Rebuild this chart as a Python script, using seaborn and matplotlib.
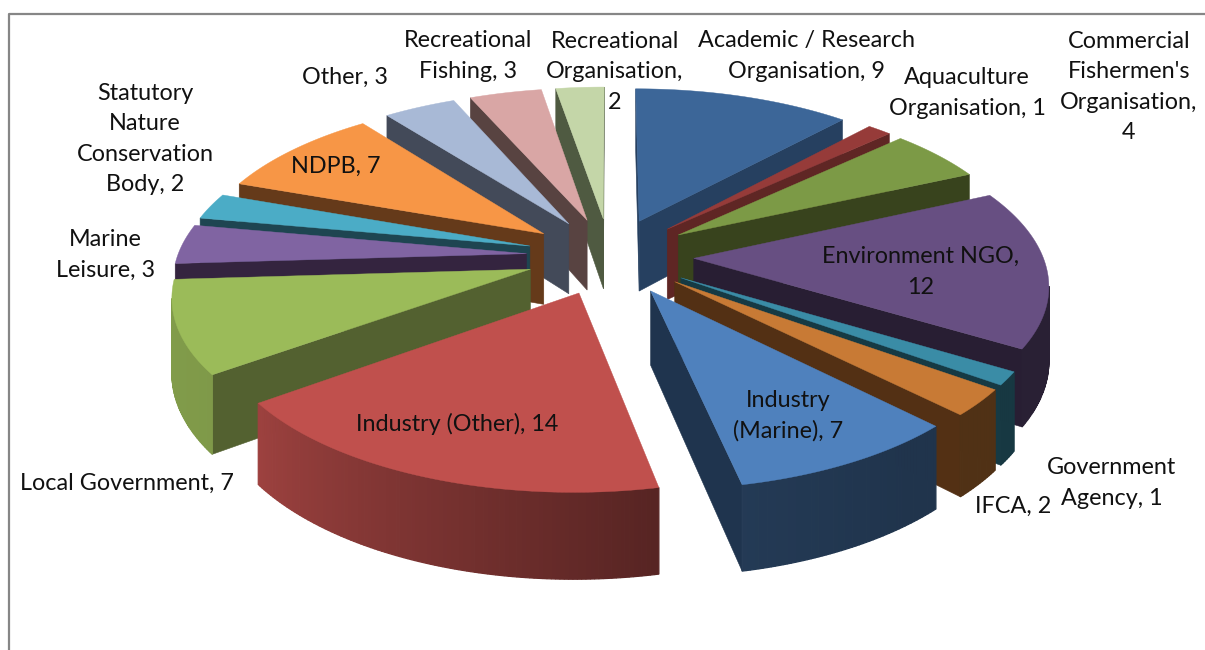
import numpy as np
import matplotlib
matplotlib.use('Agg')
import matplotlib.pyplot as plt
import seaborn as sns

# Slices, clockwise from 12 o'clock
categories = ['Academic / Research Organisation', 'Aquaculture Organisation',
              "Commercial Fishermen's Organisation", 'Environment NGO',
              'Government Agency', 'IFCA', 'Industry (Marine)', 'Industry (Other)',
              'Local Government', 'Marine Leisure',
              'Statutory Nature Conservation Body', 'NDPB', 'Other',
              'Recreational Fishing', 'Recreational Organisation']
counts = [9, 1, 4, 12, 1, 2, 7, 14, 7, 3, 2, 7, 3, 3, 2]

top_colors = ['#3C6698', '#963B39', '#7C9A46', '#674F82', '#3A8CA6',
              '#C87A35', '#4F81BD', '#C0504D', '#9BBB59', '#8064A2',
              '#4BACC6', '#F79646', '#A8B9D6', '#D9A6A5', '#C4D6A8']
wall_colors = ['#264060', '#5F2624', '#38431D', '#281E33', '#163A44',
               '#533014', '#1F344E', '#5B2220', '#536130', '#34243F',
               '#1E4551', '#653A1A', '#434A59', '#584341', '#4F5A41']

# Label text and where it sits on the canvas
label_text = ['Academic / Research\nOrganisation, 9', 'Aquaculture\nOrganisation, 1',
              "Commercial\nFishermen's\nOrganisation,\n4", 'Environment NGO,\n12',
              'Government\nAgency, 1', 'IFCA, 2', 'Industry\n(Marine), 7',
              'Industry (Other), 14', 'Local Government, 7', 'Marine\nLeisure, 3',
              'Statutory\nNature\nConservation\nBody, 2', 'NDPB, 7', 'Other, 3',
              'Recreational\nFishing, 3', 'Recreational\nOrganisation,\n2']
label_x = [807, 967, 1129, 921, 1112, 1013, 788, 457, 127, 105, 145, 336, 345, 468, 615]
label_y = [56, 93, 87, 272, 483, 506, 416, 424, 483, 255, 139, 166, 77, 56, 72]

# Projection settings
CX, CY = 610, 256
RX, RY = 349, 160
PERSP = 0.14
EXPLODE = 0.24
DEPTH = 72


def project(u, v, z=0.0):
    s = 1 / (1 + PERSP * v)
    return CX + RX * u * s, CY - RY * v * s + DEPTH * z * s


def faces_viewer(p0, p1, inside):
    # a side wall shows when going down the screen leaves the slice's top
    dx, dy = p1[0] - p0[0], p1[1] - p0[1]
    cross = dx * (inside[1] - p0[1]) - dy * (inside[0] - p0[0])
    return cross < 0 if dx > 0 else cross > 0


def shade(color, angle):
    # outer rim gets lighter towards the lower left
    f = np.interp(angle, [0, 140, 168, 234, 300, 360],
                  [0.40, 0.40, 0.45, 0.82, 0.86, 0.5])
    base = np.array(matplotlib.colors.to_rgb(color))
    return tuple(base * f)


sns.set_theme(style='white')
plt.rcParams['font.family'] = ['Lato', 'DejaVu Sans']

fig = plt.figure(figsize=(12.05, 6.5), dpi=100)
ax = fig.add_axes([0, 0, 1, 1])
ax.set_xlim(0, 1205)
ax.set_ylim(650, 0)
ax.axis('off')

# chart frame
ax.plot([9, 9, 1205], [650, 14, 14], color='#868686', lw=1.6)

values = np.array(counts, dtype=float)
edges = np.concatenate([[0], np.cumsum(values)]) / values.sum() * 2 * np.pi
mids = (edges[:-1] + edges[1:]) / 2

# back slices first
for i in np.argsort(-np.cos(mids)):
    du, dv = EXPLODE * np.sin(mids[i]), EXPLODE * np.cos(mids[i])
    th = np.linspace(edges[i], edges[i + 1], max(4, int(counts[i] * 8)))
    us, vs = du + np.sin(th), dv + np.cos(th)
    tip = project(du, dv)
    inside = project(du + 0.6 * np.sin(mids[i]), dv + 0.6 * np.cos(mids[i]))

    # cut faces, only the ones turned to the viewer
    for k in (0, -1):
        outer = project(us[k], vs[k])
        if faces_viewer(tip, outer, inside):
            quad = [tip, outer, project(us[k], vs[k], 1), project(du, dv, 1)]
            ax.fill(*zip(*quad), color=wall_colors[i], lw=0.4, zorder=2)

    # outer rim
    for a in range(len(th) - 1):
        p0, p1 = project(us[a], vs[a]), project(us[a + 1], vs[a + 1])
        if not faces_viewer(p0, p1, tip):
            continue
        quad = [p0, p1, project(us[a + 1], vs[a + 1], 1), project(us[a], vs[a], 1)]
        rim = shade(top_colors[i], np.degrees(th[a]))
        ax.fill(*zip(*quad), color=rim, lw=0.9, zorder=2)

    # top
    top = [tip] + [project(a, b) for a, b in zip(us, vs)]
    ax.fill(*zip(*top), color=top_colors[i], lw=0.3, zorder=2)

for text, x, y in zip(label_text, label_x, label_y):
    ax.text(x, y, text, ha='center', va='center', fontsize=16.8,
            linespacing=1.55, color='#111111', zorder=5)

fig.savefig('out.png', dpi=100, facecolor='white')
